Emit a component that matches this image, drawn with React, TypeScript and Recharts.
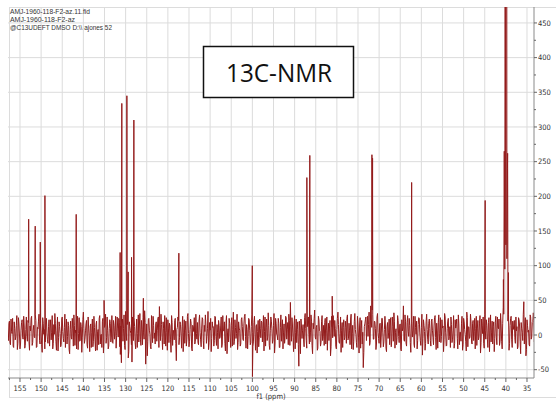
import { Line, LineChart, ReferenceLine, XAxis, YAxis } from "recharts";

// baseline noise, two interleaved passes sampled every 0.25 ppm (20 points = 5 ppm per row)
const NOISE_STEP = 0.25;
const NOISE_A_START = 158;
const NOISE_A = [
  12, -8, 20, -14, 5, 24, -18, 9, -3, 28, -12, 16, -20, 7, 22, -6, 13, -15, 26, -9,
  18, -22, 6, 27, -11, 14, -4, 21, -17, 9, 30, -13, 3, -25, 17, 8, -10, 24, -7, 12,
  -16, 22, 4, -20, 15, 31, -9, 6, -23, 19, 2, -14, 26, -5, 11, -18, 23, -2, 14, -27,
  20, -6, 9, 29, -15, 3, 17, -21, 25, -8, 12, -3, 33, -12, 6, 21, -19, 10, -24, 16,
  4, -17, 27, -7, 15, -22, 8, 24, -13, 1, 19, -26, 11, 30, -4, 7, -16, 22, -10, 28,
  -12, 14, 5, -19, 26, -3, 18, -28, -40, 23, 9, -15, 34, -8, 20, -24, 12, 2, -39, 17,
  25, -11, 7, -18, 29, 13, -6, 21, -14, 3, 35, -42, 16, -9, 24, 1, -20, 10, 27, -5,
  -13, 19, 6, 26, 41, -8, 15, -21, 9, 28, -16, 4, 22, -11, 13, -25, 18, 7, -7, 24,
  -37, 11, 21, -4, 15, -19, 27, 3, -12, 20, -6, 31, -17, 8, 17, -23, 12, 25, -9, 2,
  18, -14, 29, -7, 10, 23, -20, 5, 16, -2, 34, -11, 7, -24, 19, 12, -8, 26, -15, 4,
  21, -5, 13, -18, 28, 6, -12, 17, -27, 9, 24, -3, 14, -16, 33, -9, 11, 2, -21, 19,
  7, -13, 25, -6, 16, 30, -19, 8, -2, 22, -14, 12, 3, -10, 27, -22, 15, 5, -17, 23,
  -4, 18, 9, -23, 26, 11, -8, 32, -15, 6, 20, -12, 14, -26, 24, 1, -7, 17, -18, 29,
  10, -20, 16, -3, 25, 8, -14, 21, 47, -9, 13, -24, 28, 4, -11, 19, -45, 6, 23, -5,
  15, -17, 31, -8, 12, 26, -13, 3, 20, -27, 9, 36, -6, 14, -19, 22, 5, -11, 28, -2,
  -15, 24, 7, -22, 17, 10, -30, 27, -4, 13, 21, -16, 8, 33, -10, 2, -25, 18, 11, -7,
  20, -12, 29, -5, 6, 23, -20, 14, -9, 31, 1, -18, 16, -26, 25, 9, -13, -47, 12, 22,
  -8, 27, 15, -15, 42, 11, 30, -6, 19, -21, 26, 4, -12, 17, -3, 24, -17, 8, 13, -24,
  18, 3, -14, 25, -7, 12, 32, -19, 9, -4, 21, -11, 16, -23, 6, 42, -9, 20, -16, 28,
  -2, 14, -25, 19, 7, -13, 27, 1, -20, 15, 24, -8, 11, -29, 22, 5, -12, 30, -6, 17,
  9, -16, 23, -4, 13, 28, -21, 6, 18, -10, 25, -2, 10, -24, 31, 3, -15, 20, -7, 12,
  26, -11, 7, -19, 22, 15, -5, 29, -14, 4, 17, -22, 24, 8, -9, 33, -17, 11, -3, 19,
  -13, 21, 5, -20, 27, 10, -7, 16, -26, 23, 2, -12, 30, -6, 14, -18, 25, 6, -10, 20,
  12, -24, 18, -3, 26, 9, -15, 31, -9, 17, 30, 95, 130, 110, 20, -22, 14, 27, -18, 8,
  21, -12, 6, -20, 25, 13, -27, 9, -8, 48, 16, -30, 22, 4, -14, 29, -6, 18, 32, -10,
];
const NOISE_B_START = 157.875;
const NOISE_B = [
  -5, 17, -11, 23, 2, -16, 19, -7, 14, -21, 25, 0, -13, 18, -4, 27, -19, 8, -2, 21,
  -9, 13, 24, -15, 7, -3, 29, -18, 11, 20, -8, 16, -14, 25, 1, -20, 15, 3, -12, 22,
  10, -7, 28, -12, 1, 17, -22, 26, -4, 12, -17, 23, 5, -10, 30, 6, -13, 19, -21, 8,
  -3, 24, -16, 14, 7, -20, 27, 2, -9, 18, -25, 22, 9, -6, 16, -14, 26, -1, 13, -18,
  23, -9, 11, -23, 20, 5, -14, 28, 0, -18, 24, -7, 15, -12, 26, -20, 9, 17, -3, -11,
  21, -6, 27, -1, 10, 24, -17, 13, 20, -9, 29, -21, 4, 15, -33, 19, 6, -14, 26, -8,
  12, -20, 23, 2, -10, 31, -15, 8, 25, -6, 18, -3, -30, 22, 7, -17, 28, -11, 14, 3,
  16, -9, 24, -18, 11, 30, -4, 19, -13, 6, 25, -22, 10, 17, -7, 28, -15, 3, 21, -12,
  8, 26, -14, 19, -1, 12, -24, 22, 7, -16, 27, 2, -9, 23, -19, 14, 5, -13, 30, -6,
  -11, 20, 4, -17, 25, -8, 14, 29, -12, 9, -21, 18, 24, -5, 11, -16, 27, -2, 15, -20,
  14, -3, 26, -13, 6, 19, -23, 28, 3, -10, 17, -18, 25, 8, -14, 22, -5, 30, -11, 10,
  -16, 22, 12, -8, 27, -2, 15, -20, 24, 6, -11, 29, -17, 18, 1, 13, -26, 21, -4, 9,
  20, -10, 28, 5, -16, 23, -3, 14, -21, 26, 9, -7, 31, -13, 17, -1, 24, -18, 11, -9,
  22, 3, -12, 27, -6, 18, 30, -15, 12, 25, -4, 16, -20, 23, 8, -14, 20, -27, 13, 6,
  -7, 25, 9, -19, 22, 1, -10, 29, -15, 17, 24, -3, 11, -22, 27, 6, -16, 19, -8, 14,
  18, -13, 26, 3, -8, 21, -17, 12, 28, -2, 9, -20, 24, 15, -12, 26, 7, -18, 22, -4,
  11, 24, -7, 17, -14, 30, 2, -21, 19, 8, -11, 27, -3, 13, -19, 21, 4, -25, 16, 26,
  14, -2, 33, -11, 22, 36, -6, 20, 9, -13, 31, -5, 16, -18, 24, 3, -10, 27, -19, 12,
  -5, 23, 13, -17, 26, -9, 19, 4, -14, 28, -2, 15, -21, 22, 10, -7, 29, -12, 18, 5,
  24, -11, 16, -3, 27, -18, 11, 20, -8, 25, 3, -15, 30, -5, 14, -22, 19, 8, -13, 23,
  -8, 20, 6, -14, 25, -4, 17, -19, 29, 2, -11, 22, 13, -7, 26, -16, 9, 24, -2, -18,
  15, -6, 28, -12, 10, 23, -20, 16, 4, -9, 27, -14, 19, 1, -23, 25, 12, -5, 30, -10,
  17, -8, 24, 9, -15, 21, -3, 28, -11, 14, 26, -19, 7, 22, -6, 18, -24, 29, 3, -13,
  19, -5, 27, -14, 11, 23, -9, 16, -20, 40, 250, 500, 500, 240, 30, -12, 24, -6, 20, 13,
  -4, 26, 12, -17, 22, -9, 18, 4, 30, -13, 25, -21, 14, 7, -16, 26, -3, 19, 21, 10,
];

// resolved carbon lines (ppm) and their heights, including the DMSO-d6 septet
const PEAK_PPM = [
  152.95, 151.4, 150.2, 149.1, 141.7, 135.1, 131.3, 130.9, 129.7, 129.4, 128.6, 128.05,
  125.8, 117.4, 100.02, 99.98, 87.1, 86.4, 81.1, 71.7, 71.55, 62.3, 44.9,
  40.58, 40.38, 40.18, 39.98, 39.78, 39.58, 39.38,
];
const PEAK_HEIGHT = [
  167, 157, 134, 201, 174, 50, 119, 334, 345, 91, 112, 310,
  53, 118, 100, -60, 227, 259, 56, 260, 255, 220, 194,
  80, 265, 600, 800, 600, 262, 90,
];

const X_LABELS = [155, 150, 145, 140, 135, 130, 125, 120, 115, 110, 105, 100, 95, 90, 85, 80, 75, 70, 65, 60, 55, 50, 45, 40, 35];
const Y_LABELS = [-50, 0, 50, 100, 150, 200, 250, 300, 350, 400, 450];

const HEADER_LINES = ["AMJ-1960-118-F2-az.11.fid", "AMJ-1960-118-F2-az", "@C13UDEFT DMSO D:\\\\ ajones 52"];
const HEADER_WIDTHS = [80, 65, 102];

const TITLE = "13C-NMR";

const spectrum = [
  ...NOISE_A.map((v, i) => ({ ppm: NOISE_A_START - i * NOISE_STEP, v })),
  ...NOISE_B.map((v, i) => ({ ppm: NOISE_B_START - i * NOISE_STEP, v })),
  ...PEAK_PPM.map((ppm, i) => ({ ppm, v: PEAK_HEIGHT[i] })),
].sort((a, b) => b.ppm - a.ppm);

const xTicks = [...X_LABELS, ...X_LABELS.map((v) => v + 2.5)].sort((a, b) => b - a);
const yTicks = [...Y_LABELS, ...Y_LABELS.slice(0, -1).map((v) => v + 25)].sort((a, b) => a - b);

const LABEL_FONT = "'Liberation Sans Narrow', 'DejaVu Sans Condensed', 'Liberation Sans', sans-serif";
const RED = "#931b1b";
const GRID = "#dcdcdc";

function XTick({ x, y, payload }: any) {
  const major = X_LABELS.includes(payload.value);
  return (
    <g>
      <line x1={x} x2={x} y1={y} y2={y + (major ? 4 : 2)} stroke="#666" />
      {major && (
        <text x={x} y={y + 13} textAnchor="middle" fontSize={7.5} fontFamily={LABEL_FONT} fill="#333">
          {payload.value}
        </text>
      )}
    </g>
  );
}

function YTick({ x, y, payload }: any) {
  const major = Y_LABELS.includes(payload.value);
  return (
    <g>
      <line x1={x} x2={x + (major ? 3 : 2)} y1={y} y2={y} stroke="#666" />
      {major && (
        <text x={x + 4} y={y + 2.6} textAnchor="start" fontSize={7.5} fontFamily={LABEL_FONT} fill="#333">
          {payload.value}
        </text>
      )}
    </g>
  );
}

export default function App() {
  return (
    <div style={{ position: "absolute", left: 0, top: 0, width: 556, height: 402, background: "#fff" }}>
      <div
        style={{
          position: "absolute",
          left: 9,
          top: 7,
          width: 547,
          height: 391,
          borderTop: `1px solid ${GRID}`,
          borderLeft: `1px solid ${GRID}`,
          borderBottom: `1px solid ${GRID}`,
          boxSizing: "border-box",
        }}
      />
      <LineChart width={556} height={402} data={spectrum} margin={{ top: 7, right: 0, bottom: 0, left: 8 }}>
        <XAxis
          dataKey="ppm"
          type="number"
          domain={[33.34, 157.84]}
          reversed
          allowDataOverflow
          ticks={xTicks}
          interval={0}
          tick={<XTick />}
          tickLine={false}
          tickSize={0}
          tickMargin={0}
          axisLine={{ stroke: "#8a8a8a" }}
          height={24}
          label={{ value: "f1 (ppm)", position: "insideBottom", offset: 3, fontSize: 7.5, fontFamily: LABEL_FONT, fill: "#333" }}
        />
        <YAxis
          orientation="right"
          type="number"
          domain={[-62, 473]}
          allowDataOverflow
          ticks={yTicks}
          interval={0}
          tick={<YTick />}
          tickLine={false}
          tickSize={0}
          tickMargin={0}
          axisLine={{ stroke: "#8a8a8a" }}
          width={22}
        />
        {X_LABELS.map((v) => (
          <ReferenceLine key={`gx${v}`} x={v} stroke={GRID} strokeWidth={1} />
        ))}
        {Y_LABELS.map((v) => (
          <ReferenceLine key={`gy${v}`} y={v} stroke={GRID} strokeWidth={1} />
        ))}
        <Line
          dataKey="v"
          type="linear"
          stroke={RED}
          strokeWidth={1}
          dot={false}
          activeDot={false}
          isAnimationActive={false}
        />
      </LineChart>
      <svg width={556} height={402} style={{ position: "absolute", left: 0, top: 0, pointerEvents: "none" }}>
        {HEADER_LINES.map((t, i) => (
          <text
            key={t}
            x={10}
            y={14 + i * 8}
            fontSize={7}
            fontFamily="'Liberation Sans', sans-serif"
            fill="#333"
            textLength={HEADER_WIDTHS[i]}
            lengthAdjust="spacingAndGlyphs"
          >
            {t}
          </text>
        ))}
        <rect x={203.5} y={46.5} width={150} height={51} fill="#fff" stroke="#111" strokeWidth={1.5} />
        <text
          x={226}
          y={82}
          fontSize={25}
          fontFamily="'Open Sans', sans-serif"
          fill="#111"
          textLength={106}
          lengthAdjust="spacingAndGlyphs"
        >
          {TITLE}
        </text>
      </svg>
    </div>
  );
}
